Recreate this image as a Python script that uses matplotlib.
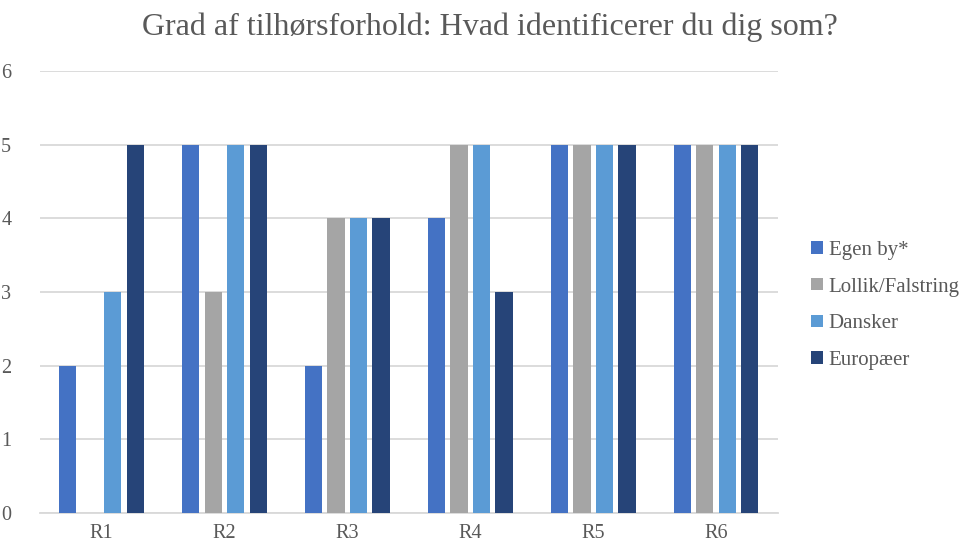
import matplotlib.pyplot as plt
import numpy as np

# data
categories = ["R1", "R2", "R3", "R4", "R5", "R6"]
series_names = ["Egen by*", "Lollik/Falstring", "Dansker", "Europæer"]
egen_by = [2, 5, 2, 4, 5, 5]
lollik = [0, 3, 4, 5, 5, 5]
dansker = [3, 5, 4, 5, 5, 5]
europaeer = [5, 5, 4, 3, 5, 5]

colors = ["#4472C4", "#A5A5A5", "#5B9BD5", "#264478"]

plt.rcParams['font.family'] = ['Liberation Serif', 'DejaVu Serif']

fig = plt.figure(figsize=(9.6, 5.47), dpi=100)
ax = fig.add_axes([0.0417, 0.062, 0.7683, 0.808])

x = np.arange(len(categories))
step = 0.183
width = 0.14
for i, (vals, name) in enumerate(zip([egen_by, lollik, dansker, europaeer], series_names)):
    ax.bar(x + (i - 1.5) * step, vals, width, color=colors[i], label=name, zorder=3)

ax.set_xlim(-0.5, len(categories) - 0.5)
ax.set_ylim(0, 6)
ax.set_yticks(range(0, 7))
ax.set_xticks(x)
ax.set_xticklabels(categories)
ax.grid(axis='y', color='#D9D9D9', linewidth=1.3, zorder=0)
for s in ['top', 'right', 'left']:
    ax.spines[s].set_visible(False)
ax.spines['bottom'].set_color('#D9D9D9')
ax.spines['bottom'].set_linewidth(1.3)
ax.tick_params(axis='both', length=0, labelsize=14.5, colors='#595959', pad=8)
ax.tick_params(axis='y', pad=28)
for t in ax.get_yticklabels():
    t.set_horizontalalignment('left')

fig.suptitle("Grad af tilhørsforhold: Hvad identificerer du dig som?",
             fontsize=23, color='#595959', x=0.5104, y=0.978)

leg = ax.legend(loc='center left', bbox_to_anchor=(1.02, 0.47), frameon=False,
                fontsize=15, handlelength=0.55, handleheight=0.55,
                handletextpad=0.3, labelspacing=0.85, labelcolor='#595959')

fig.savefig("out.png", dpi=100)
